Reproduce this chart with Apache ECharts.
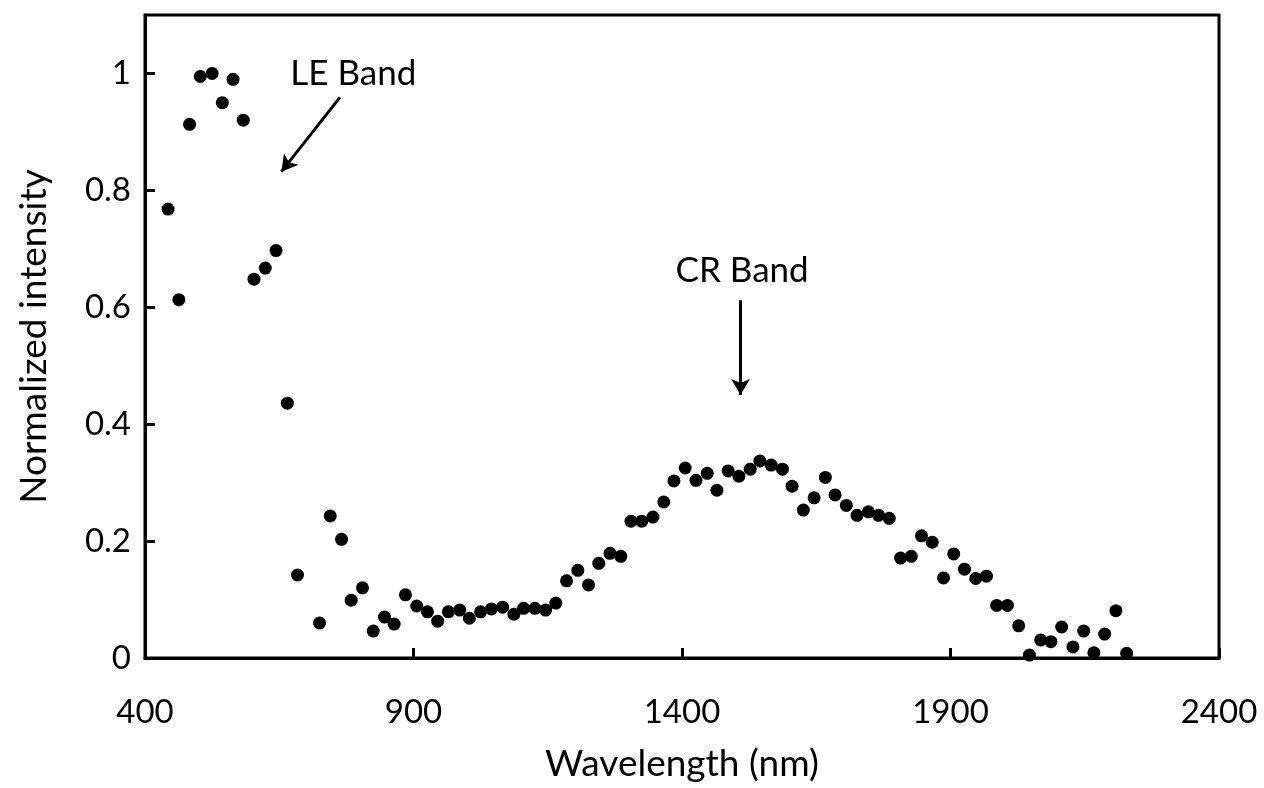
<!DOCTYPE html>
<html>
<head>
<meta charset="utf-8">
<script src="https://cdn.jsdelivr.net/npm/echarts@6/dist/echarts.min.js"></script>
<style>
html,body{margin:0;padding:0;background:#fff;}
#chart{width:1264px;height:788px;}
</style>
</head>
<body>
<div id="chart"></div>
<script>
var wavelength = [443,463,483,503,525,544,564,583,603,624,644,665,684,725,745,766,784,805,825,846,864,885,906,926,945,965,986,1004,1025,1045,1066,1087,1105,1126,1146,1165,1185,1206,1226,1245,1266,1286,1305,1325,1346,1366,1385,1406,1426,1447,1465,1486,1506,1527,1545,1566,1587,1605,1626,1646,1667,1685,1706,1726,1747,1766,1786,1807,1827,1846,1866,1887,1906,1926,1947,1967,1986,2006,2027,2047,2068,2087,2107,2128,2148,2167,2187,2208,2228];
var intensity = [0.768,0.613,0.913,0.995,1.0,0.950,0.990,0.920,0.648,0.667,0.697,0.436,0.142,0.060,0.243,0.203,0.099,0.120,0.046,0.070,0.058,0.108,0.089,0.079,0.063,0.079,0.082,0.068,0.079,0.084,0.087,0.075,0.085,0.085,0.082,0.094,0.132,0.150,0.125,0.162,0.179,0.174,0.234,0.234,0.241,0.267,0.303,0.325,0.304,0.316,0.287,0.320,0.311,0.323,0.337,0.330,0.323,0.294,0.253,0.274,0.309,0.279,0.261,0.244,0.250,0.244,0.239,0.171,0.174,0.209,0.198,0.137,0.178,0.152,0.136,0.140,0.090,0.090,0.055,0.005,0.031,0.028,0.053,0.019,0.046,0.009,0.041,0.081,0.008];

var annotationTexts = ['LE Band', 'CR Band'];
var annotationTextPos = [[788, 1.0], [1512, 0.662]];
var arrowStart = [[763, 0.959], [1509, 0.612]];
var arrowEnd = [[654, 0.832], [1509, 0.450]];

var FONT = 'Lato';
var points = wavelength.map(function (w, i) { return [w, intensity[i]]; });

var chart = echarts.init(document.getElementById('chart'));
chart.setOption({
  backgroundColor: '#ffffff',
  animation: false,
  grid: {
    left: 145, right: 45, top: 15, bottom: 128,
    show: true, borderColor: '#000', borderWidth: 3
  },
  xAxis: {
    type: 'value', min: 400, max: 2400, interval: 500,
    name: 'Wavelength (nm)', nameLocation: 'middle', nameGap: 88,
    nameTextStyle: { fontFamily: FONT, fontSize: 37, color: '#000' },
    axisLine: { show: true, lineStyle: { color: '#000', width: 3 } },
    axisTick: { show: true, inside: true, length: 10, lineStyle: { color: '#000', width: 3 } },
    axisLabel: { fontFamily: FONT, fontSize: 33, color: '#000', margin: 38,
      formatter: function (v) { return String(v); } },
    splitLine: { show: false }
  },
  yAxis: {
    type: 'value', min: 0, max: 1.1, interval: 0.2,
    name: 'Normalized intensity', nameLocation: 'middle', nameGap: 92,
    nameTextStyle: { fontFamily: FONT, fontSize: 37, color: '#000' },
    axisLine: { show: true, lineStyle: { color: '#000', width: 3 } },
    axisTick: { show: true, inside: true, length: 10, lineStyle: { color: '#000', width: 3 } },
    axisLabel: { fontFamily: FONT, fontSize: 33, color: '#000', margin: 14, showMaxLabel: false,
      formatter: function (v) { return String(Math.round(v * 10) / 10); } },
    splitLine: { show: false }
  },
  series: [{
    type: 'scatter',
    data: points,
    symbol: 'circle',
    symbolSize: 13,
    itemStyle: { color: '#000', opacity: 1 },
    markLine: {
      silent: true,
      symbol: ['none', 'arrow'],
      symbolSize: [14, 16],
      label: { show: false },
      lineStyle: { color: '#000', width: 3, type: 'solid' },
      data: arrowStart.map(function (s, i) {
        return [{ coord: s }, { coord: arrowEnd[i] }];
      })
    },
    markPoint: {
      silent: true,
      symbol: 'circle',
      symbolSize: 1,
      itemStyle: { color: 'rgba(0,0,0,0)' },
      label: {
        show: true, position: 'inside', color: '#000',
        fontFamily: FONT, fontSize: 35,
        formatter: function (p) { return p.name; }
      },
      data: annotationTexts.map(function (t, i) {
        return { name: t, coord: annotationTextPos[i] };
      })
    }
  }]
});
</script>
</body>
</html>
